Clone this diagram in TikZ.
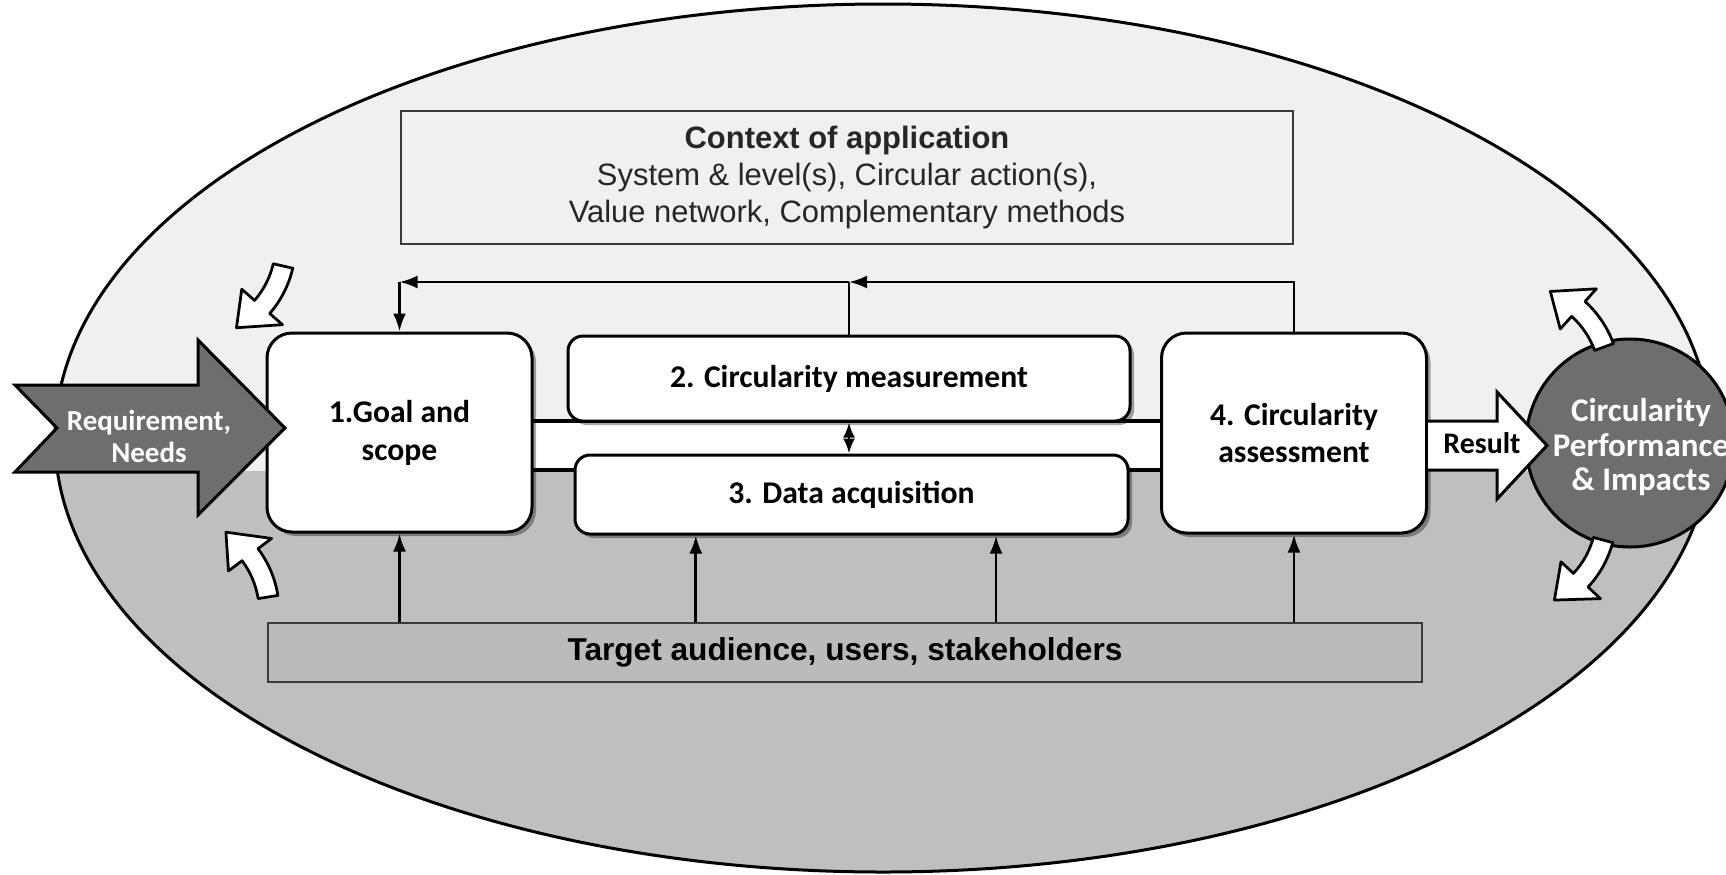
\documentclass[tikz,border=0pt]{standalone}
\usepackage{fontspec}
\setmainfont{Liberation Sans}
\newfontfamily\cali{Carlito}
\usetikzlibrary{calc}
\usetikzlibrary{arrows.meta}
\usetikzlibrary{shadows}

\definecolor{bgtop}{HTML}{F0F0F0}
\definecolor{bgbot}{HTML}{BFBFBF}
\definecolor{darkfill}{HTML}{6E6E6E}
\definecolor{framegray}{HTML}{3A3A3A}

\tikzset{
  stepbox/.style={draw=black, line width=0.6mm, fill=white, rounded corners=5mm,
    drop shadow={shadow xshift=0.8mm, shadow yshift=-0.8mm, opacity=0.35, fill=black},
    font=\cali\bfseries\fontsize{18}{21.5}\selectfont, align=center, inner sep=0pt},
  barbox/.style={stepbox, rounded corners=3mm},
  infobox/.style={draw=framegray, line width=0.35mm, inner sep=0pt, align=center},
  conn/.style={line width=0.55mm, black},
  tip/.style={-{Latex[length=3.6mm,width=2.6mm]}},
  bentfill/.style={draw=black, line width=0.55mm, fill=white, line join=round},
}

% curved block arrow: tail centre (#1,#2), turned by #3, mirrored with #4=-1
\newcommand{\turnarrow}[4]{%
  \begin{scope}[shift={(#1,#2)}, rotate=#3, yscale=#4, shift={(-95,0)}]
    \draw[bentfill] (0:105) arc[start angle=0, end angle=28, radius=105]
      -- (28:122) -- (48:95) -- (28:68) -- (28:85)
      arc[start angle=28, end angle=0, radius=85] -- cycle;
  \end{scope}}

\begin{document}
\begin{tikzpicture}[x=0.2mm, y=-0.2mm]
  \useasboundingbox (0,0) rectangle (1726,874);
  % background: light upper half, grey lower half
  \fill[bgtop] (883,438) ellipse[x radius=828, y radius=434];
  \begin{scope}
    \clip (0,471) rectangle (1726,874);
    \fill[bgbot] (883,438) ellipse[x radius=828, y radius=434];
  \end{scope}
  \draw[line width=0.6mm] (883,438) ellipse[x radius=828, y radius=434];

  \node[infobox, minimum width=178.4mm, minimum height=26.6mm, text=black!85,
    font=\fontsize{17.6}{21.3}\selectfont] (context) at (847,177.5)
    {\textbf{Context of application}\\System \& level(s), Circular action(s),\\Value network, Complementary methods};

  % white band through the steps
  \fill[white] (520,421) rectangle (1175,470);
  \draw[line width=0.8mm] (520,421) -- (1175,421);
  \draw[line width=0.8mm] (520,470) -- (1175,470);

  \node[stepbox, minimum width=53mm, minimum height=39.8mm] (goal) at (399.5,432.5) {1.Goal and\\scope};
  \node[barbox, minimum width=112.4mm, minimum height=17mm] (meas) at (849,378.5) {2. Circularity measurement};
  \node[barbox, minimum width=110.6mm, minimum height=15.8mm] (acq) at (851.5,494.5) {3. Data acquisition};
  \node[stepbox, minimum width=53mm, minimum height=40mm] (assess) at (1294,433) {4. Circularity\\assessment};

  \node[infobox, fill=bgbot!98!black, minimum width=230.8mm, minimum height=11.8mm,
    font=\bfseries\fontsize{18}{21}\selectfont] (audience) at (845,652.5) {Target audience, users, stakeholders};

  % feedback loop on top
  \coordinate (fb) at (849,282);
  \draw[conn, tip] (assess.north) |- (fb);
  \draw[conn] (meas.north) -- (fb);
  \draw[conn, tip] (fb) -- (fb -| goal.north);
  \draw[conn, tip] (fb -| goal.north) -- (goal.north);
  \draw[conn, {Latex[length=3mm,width=2.4mm]}-{Latex[length=3mm,width=2.4mm]}] (meas.south) -- (meas.south |- acq.north);

  % inputs from the audience
  \coordinate (acqa) at ($(acq.south west)!0.22!(acq.south east)$);
  \coordinate (acqb) at ($(acq.south west)!0.76!(acq.south east)$);
  \draw[conn, tip] (audience.north -| goal.south) -- (goal.south);
  \draw[conn, tip] (audience.north -| acqa) -- (acqa);
  \draw[conn, tip] (audience.north -| acqb) -- (acqb);
  \draw[conn, tip] (audience.north -| assess.south) -- (assess.south);

  % requirement arrow
  \draw[line width=0.6mm, fill=darkfill, line join=miter] (15,385) -- (198,385) -- (198,340) -- (285,428)
    -- (198,515) -- (198,472) -- (15,472) -- (57,428) -- cycle;
  \node[text=white, align=center, font=\cali\bfseries\fontsize{16.5}{18.2}\selectfont] (needs) at (149,436) {Requirement,\\Needs};

  % performance circle and result arrow
  \node[circle, draw, line width=0.6mm, fill=darkfill, minimum size=41.6mm, inner sep=0pt] (perf) at (1630,443) {};
  \draw[line width=0.6mm, fill=white, line join=miter] (assess.east |- 0,421) -- (1497,421) -- (1497,392) -- (1547,445.5)
    -- (1497,499) -- (1497,470) -- (assess.east |- 0,470);
  \node[font=\cali\bfseries\fontsize{17}{20}\selectfont] (result) at (1482,443) {Result};
  \node[text=white, align=center, font=\cali\bfseries\fontsize{18.8}{19.6}\selectfont] (perftext) at (1641,447)
    {Circularity\\Performance\\\& Impacts};

  \turnarrow{283}{266}{-13}{1}
  \turnarrow{268}{597}{9}{-1}
  \turnarrow{1604}{347}{20}{-1}
  \turnarrow{1603}{540}{-15}{1}
\end{tikzpicture}
\end{document}
